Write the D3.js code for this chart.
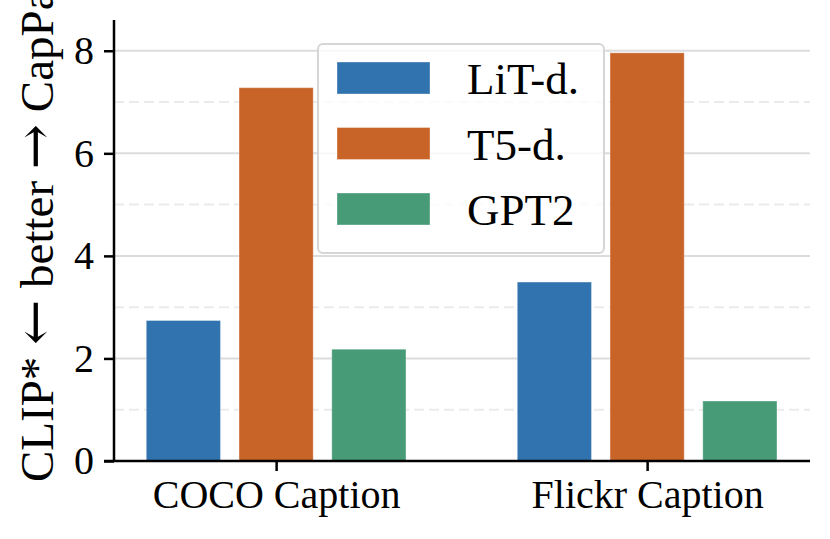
<!DOCTYPE html>
<html>
	<head>
		<title>CLIP vs CapPa</title>
		<style>
			body,html
			{
				margin:0px;
				background:#fff;
			}
			text
			{
				font-family:'Liberation Serif','Times New Roman',serif;
			}
		</style>
		<script src='https://cdn.jsdelivr.net/npm/d3@7'></script>
	</head>
	<body>
	<svg width='830' height='539'></svg>
	<script>
		// data
		var categories = ['COCO Caption', 'Flickr Caption'];
		var seriesNames = ['LiT-d.', 'T5-d.', 'GPT2'];
		var litValues = [2.74, 3.49];
		var t5Values = [7.28, 7.96];
		var gpt2Values = [2.18, 1.17];
		var yTicks = [0, 2, 4, 6, 8];
		var yMinorTicks = [1, 3, 5, 7];
		var colors = ['#3173ae', '#c86428', '#489b77'];

		(function(){
		var allValues = [litValues, t5Values, gpt2Values];

		var svg = d3.select('svg');

		var plotLeft = 114, plotRight = 810, plotTop = 20, plotBottom = 461;

		var x = d3.scaleLinear().domain([-0.437, 1.439]).range([plotLeft, plotRight]);
		var y = d3.scaleLinear().domain([0, 8.6]).range([plotBottom, plotTop]);

		var barWidth = 0.2;
		var offsets = [-0.25, 0, 0.25];

		// grid
		svg.append('g').selectAll('line').data(yMinorTicks).enter()
			.append('line')
			.attr('x1', plotLeft).attr('x2', plotRight)
			.attr('y1', function(d){ return y(d); })
			.attr('y2', function(d){ return y(d); })
			.style('stroke', '#ebebeb')
			.style('stroke-width', 2)
			.style('stroke-dasharray', '10,5');

		svg.append('g').selectAll('line').data(yTicks.slice(1)).enter()
			.append('line')
			.attr('x1', plotLeft).attr('x2', plotRight)
			.attr('y1', function(d){ return y(d); })
			.attr('y2', function(d){ return y(d); })
			.style('stroke', '#dcdcdc')
			.style('stroke-width', 2);

		// bars
		allValues.forEach(function(vals, s)
		{
			svg.append('g').selectAll('rect').data(vals).enter()
				.append('rect')
				.attr('x', function(d, i){ return x(i + offsets[s] - barWidth / 2); })
				.attr('width', x(barWidth) - x(0))
				.attr('y', function(d){ return y(d); })
				.attr('height', function(d){ return y(0) - y(d); })
				.style('fill', colors[s])
				.style('stroke', '#ffffff')
				.style('stroke-opacity', 0.35)
				.style('stroke-width', 1);
		});

		// axes
		var yAxis = d3.axisLeft(y).tickValues(yTicks).tickSize(10).tickPadding(10).tickFormat(d3.format('d'));
		var gy = svg.append('g').attr('transform', 'translate(' + plotLeft + ',0)').call(yAxis);
		gy.select('.domain').remove();
		gy.append('line').attr('x1', 0).attr('x2', 0).attr('y1', plotTop).attr('y2', plotBottom)
			.style('stroke', '#000').style('stroke-width', 2.5);

		var xAxis = d3.axisBottom(x).tickValues([0, 1]).tickSize(10).tickPadding(9)
			.tickFormat(function(d){ return categories[d]; });
		var gx = svg.append('g').attr('transform', 'translate(0,' + plotBottom + ')').call(xAxis);
		gx.select('.domain').remove();
		gx.append('line').attr('x1', plotLeft - 10).attr('x2', plotRight).attr('y1', 0).attr('y2', 0)
			.style('stroke', '#000').style('stroke-width', 2.5);

		svg.selectAll('.tick line').style('stroke', '#000').style('stroke-width', 2.5);
		svg.selectAll('.tick text')
			.style('font-size', '40px')
			.style('font-family', "'Liberation Serif', serif")
			.style('fill', '#000');

		// y label, arrows from DejaVu Serif so they are long like the original
		var lab = svg.append('text')
			.attr('transform', 'translate(53,482) rotate(-90)')
			.attr('text-anchor', 'start')
			.style('font-size', '47px');
		lab.append('tspan').text('CLIP* ');
		lab.append('tspan').style('font-family', "'DejaVu Serif', serif").style('font-size', '54px').text('\u2190');
		lab.append('tspan').text(' better ');
		lab.append('tspan').style('font-family', "'DejaVu Serif', serif").style('font-size', '54px').text('\u2192');
		lab.append('tspan').text(' CapPa');

		// legend
		var legend = svg.append('g');
		legend.append('rect')
			.attr('x', 318).attr('y', 44)
			.attr('width', 286).attr('height', 209)
			.attr('rx', 5).attr('ry', 5)
			.style('fill', '#fff').style('fill-opacity', 0.8)
			.style('stroke', '#d6d6d6').style('stroke-width', 2);

		var items = legend.selectAll('g.item').data(seriesNames).enter()
			.append('g').attr('class', 'item')
			.attr('transform', function(d, i){ return 'translate(337,' + (62 + i * 65.5) + ')'; });

		items.append('rect')
			.attr('width', 93).attr('height', 32)
			.style('fill', function(d, i){ return colors[i]; })
			.style('stroke', '#ffffff').style('stroke-opacity', 0.35);

		items.append('text')
			.attr('x', 130).attr('y', 32)
			.style('font-size', '45px')
			.text(function(d){ return d; });
		})();
	</script>
	</body>
</html>
